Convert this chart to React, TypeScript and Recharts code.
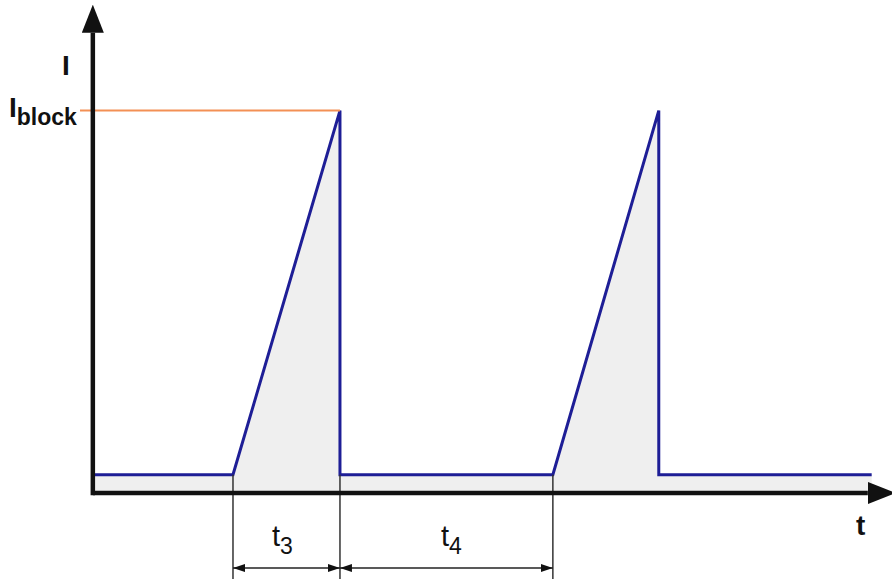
import React from "react";
import { ComposedChart, Area, XAxis, YAxis, ReferenceLine } from "recharts";

// time (arbitrary units) and current (arbitrary units)
const times = [0, 6.55, 11.55, 11.55, 21.5, 26.45, 26.45, 36.4];
const currents = [0.5, 0.5, 10.5, 0.5, 0.5, 10.5, 0.5, 0.5];
const I_BLOCK = 10.5;
const T3_START = 6.55;
const T3_END = 11.55;
const T4_END = 21.5;
const X_DOMAIN: [number, number] = [-0.6, 37.35];
const Y_DOMAIN: [number, number] = [0, 13.4];
const X_AXIS_END = 36.22;
const Y_AXIS_END = 12.64;
const DIM_BOTTOM = -2.4;
const DIM_ARROW_Y = -2.06;

const data = times.map((t, i) => ({ t, i: currents[i] }));

const FONT = "'Liberation Sans', Arial, sans-serif";

const lineShape =
  (stroke: string, width: number, markerStart?: string, markerEnd?: string) =>
  (p: any) =>
    (
      <line
        x1={p.x1}
        y1={p.y1}
        x2={p.x2}
        y2={p.y2}
        stroke={stroke}
        strokeWidth={width}
        markerStart={markerStart}
        markerEnd={markerEnd}
      />
    );

export default function App() {
  return (
    <div style={{ position: "absolute", left: 0, top: 0, background: "#fff" }}>
      <ComposedChart
        width={892}
        height={579}
        data={data}
        margin={{ top: 5, right: 0, bottom: 86, left: 80 }}
      >
        <defs>
          <marker
            id="axArrow"
            markerUnits="userSpaceOnUse"
            markerWidth={28}
            markerHeight={22}
            refX={0}
            refY={11}
            orient="auto"
          >
            <path d="M0,0 L28,11 L0,22 Z" fill="#111" />
          </marker>
          <marker
            id="dimArrow"
            markerUnits="userSpaceOnUse"
            markerWidth={12}
            markerHeight={8}
            refX={12}
            refY={4}
            orient="auto-start-reverse"
          >
            <path d="M0,0 L12,4 L0,8 Z" fill="#111" />
          </marker>
        </defs>
        <XAxis dataKey="t" type="number" domain={X_DOMAIN} allowDataOverflow hide />
        <YAxis type="number" domain={Y_DOMAIN} allowDataOverflow hide />
        <Area
          type="linear"
          dataKey="i"
          stroke="#1e1e96"
          strokeWidth={3}
          fill="#efefef"
          fillOpacity={1}
          isAnimationActive={false}
          dot={false}
          activeDot={false}
        />
        <ReferenceLine
          segment={[
            { x: X_DOMAIN[0], y: I_BLOCK },
            { x: T3_END, y: I_BLOCK },
          ]}
          ifOverflow="visible"
          shape={lineShape("#f39055", 2)}
        />
        {[T3_START, T3_END, T4_END].map((x) => (
          <ReferenceLine
            key={x}
            segment={[
              { x, y: currents[1] },
              { x, y: DIM_BOTTOM },
            ]}
            ifOverflow="visible"
            shape={lineShape("#333", 1.5)}
          />
        ))}
        <ReferenceLine
          segment={[
            { x: T3_START, y: DIM_ARROW_Y },
            { x: T3_END, y: DIM_ARROW_Y },
          ]}
          ifOverflow="visible"
          shape={lineShape("#222", 1.5, "url(#dimArrow)", "url(#dimArrow)")}
        />
        <ReferenceLine
          segment={[
            { x: T3_END, y: DIM_ARROW_Y },
            { x: T4_END, y: DIM_ARROW_Y },
          ]}
          ifOverflow="visible"
          shape={lineShape("#222", 1.5, "url(#dimArrow)", "url(#dimArrow)")}
        />
        <ReferenceLine
          segment={[
            { x: 0, y: 0 },
            { x: X_AXIS_END, y: 0 },
          ]}
          ifOverflow="visible"
          shape={lineShape("#111", 4.5, undefined, "url(#axArrow)")}
        />
        <ReferenceLine
          segment={[
            { x: 0, y: -0.06 },
            { x: 0, y: Y_AXIS_END },
          ]}
          ifOverflow="visible"
          shape={lineShape("#111", 4.5, undefined, "url(#axArrow)")}
        />
        <text x={66} y={75} textAnchor="middle" fontFamily={FONT} fontWeight="bold" fontSize={28} fill="#111">
          I
        </text>
        <text x={9} y={117} fontFamily={FONT} fontWeight="bold" fontSize={28} fill="#111">
          I
          <tspan dy={8} fontSize={23}>block</tspan>
        </text>
        <text x={856} y={535} fontFamily={FONT} fontWeight="bold" fontSize={28} fill="#111">
          t
        </text>
        <text x={272} y={546} fontFamily={FONT} fontSize={29} fill="#111">
          t<tspan dy={8} fontSize={23}>3</tspan>
        </text>
        <text x={441} y={546} fontFamily={FONT} fontSize={29} fill="#111">
          t<tspan dy={8} fontSize={23}>4</tspan>
        </text>
      </ComposedChart>
    </div>
  );
}
